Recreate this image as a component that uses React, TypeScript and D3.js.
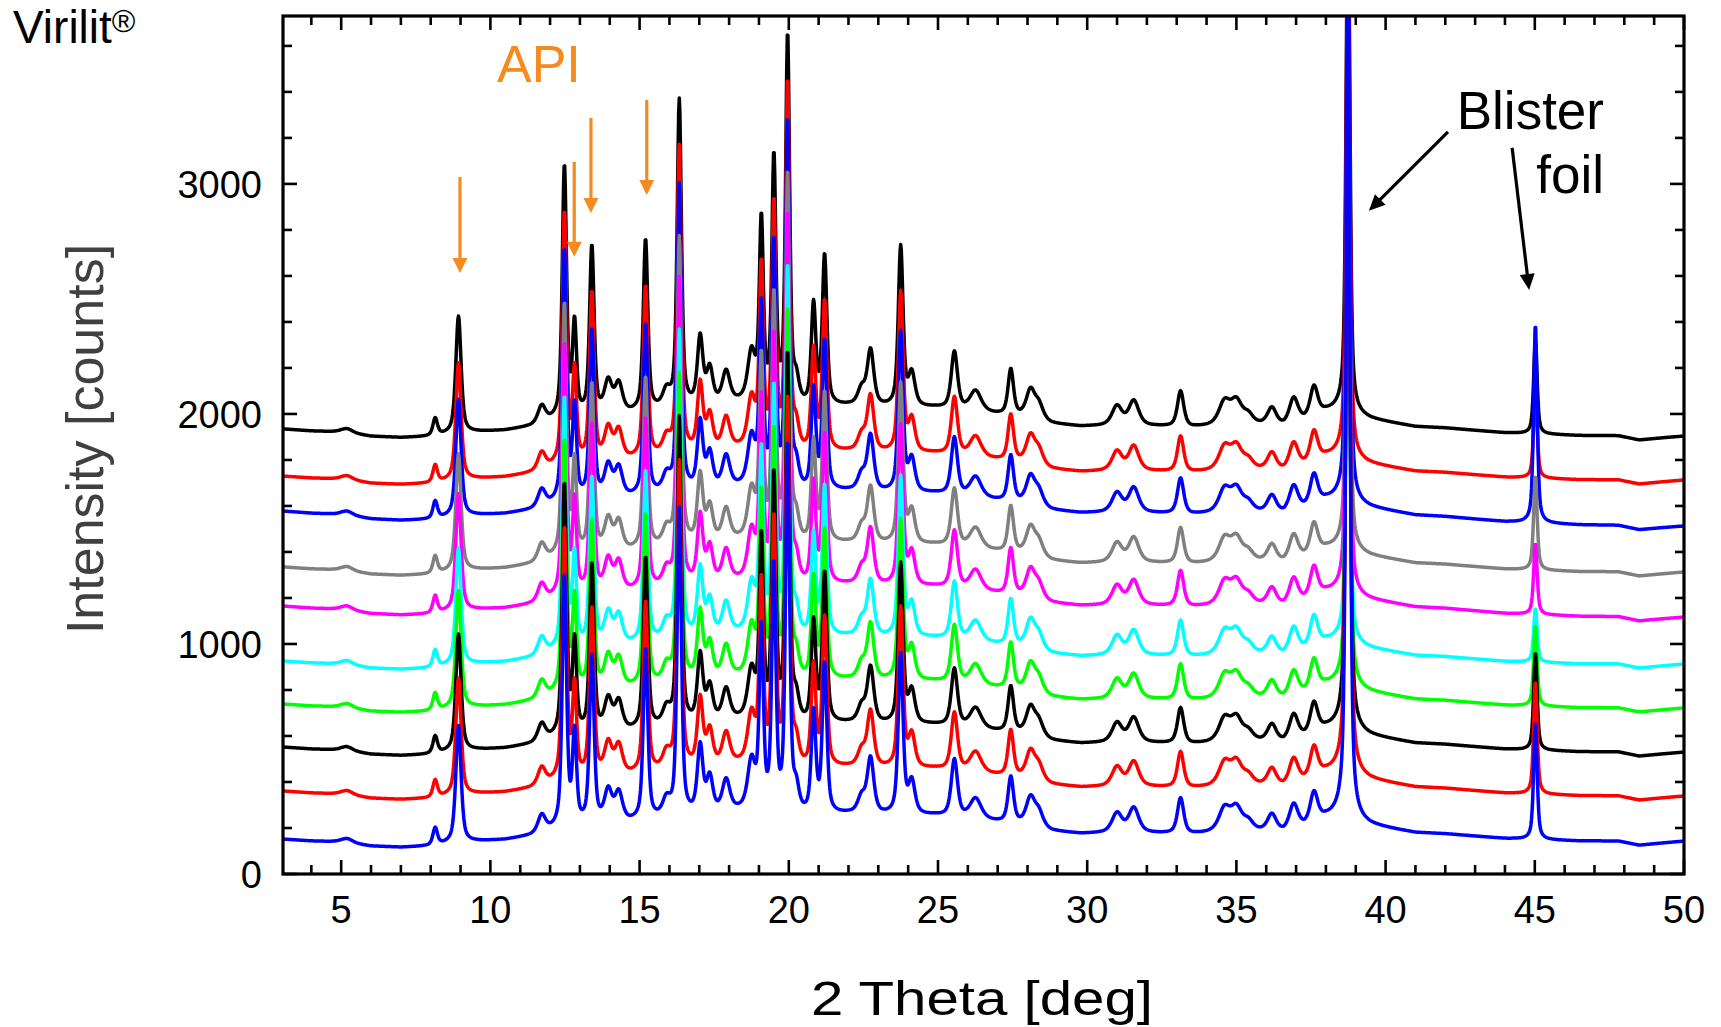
import React from 'react';
import * as d3 from 'd3';

// ---------- data ----------
const seriesNames = ['Scan 1', 'Scan 2', 'Scan 3', 'Scan 4', 'Scan 5', 'Scan 6', 'Scan 7', 'Scan 8', 'Scan 9', 'Scan 10'];
const seriesColors = ['#000000', '#ff0000', '#0000ff', '#808080', '#ff00ff', '#00ffff', '#00ff00', '#000000', '#ff0000', '#0000ff'];
// vertical offset of each pattern at 2θ = 3 and at 2θ = 50 (counts)
const offsetStart = [1935, 1730, 1578, 1335, 1165, 926, 739, 552, 361, 152];
const offsetEnd = [1904, 1713, 1513, 1313, 1117, 913, 722, 530, 339, 143];

// common background shape (counts relative to the offset)
const bgX = [3.05, 4, 5, 6, 7, 8, 8.5, 9.5, 10.5, 11.4, 12, 12.6, 13.7, 14.6, 15.6, 16.7, 18.3, 19.3, 20.5, 22, 23.3, 24.9, 26.8, 27.8, 28.8, 29.8, 30.5, 32, 32.8, 33.5, 34.2, 35.9, 36.6, 37.3, 38, 38.5, 39, 39.5, 40, 41, 42, 43, 44, 46.5, 47.8, 48.5, 49.3, 50];
const bgY = [0, -8, -12, -30, -35, -30, -22, -10, -2, 15, 35, 55, 65, 70, 85, 100, 120, 125, 100, 110, 105, 105, 80, 65, 38, 28, 30, 30, 28, 25, 30, 35, 30, 55, 95, 105, 80, 65, 55, 35, 30, 20, 10, 0, 0, -18, -8, 0];

// API reflections: position (deg), height (counts), FWHM (deg)
const peakPos = [5.2, 8.15, 8.93, 11.72, 12.48, 12.82, 13.4, 13.95, 14.3, 15.2, 15.9, 16.33, 17.03, 17.35, 17.9, 18.75, 19.08, 19.5, 19.96, 20.25, 20.83, 21.2, 22.44, 22.74, 23.75, 24.12, 25.55, 26.26, 27.44, 28.1, 28.38, 31.0, 31.56, 33.13, 34.6, 35.0, 35.4, 36.19, 36.92, 37.6];
const peakHeight = [18, 75, 510, 75, 1090, 390, 730, 135, 125, 745, 70, 1335, 290, 150, 135, 205, 775, 1050, 1595, 90, 435, 650, 70, 240, 695, 140, 250, 90, 200, 120, 65, 85, 108, 155, 100, 100, 40, 75, 110, 130];
const peakWidth = [0.45, 0.18, 0.21, 0.3, 0.17, 0.16, 0.18, 0.3, 0.3, 0.18, 0.3, 0.17, 0.22, 0.25, 0.3, 0.3, 0.16, 0.16, 0.16, 0.22, 0.18, 0.18, 0.3, 0.26, 0.19, 0.26, 0.25, 0.45, 0.22, 0.35, 0.35, 0.4, 0.4, 0.25, 0.45, 0.45, 0.4, 0.35, 0.35, 0.3];

// blister foil reflections, heights per pattern
const blisterPos = [38.74, 45.02];
const blisterWidth = [0.15, 0.14];
const blister1Height = [2300, 2300, 2400, 2000, 2100, 1855, 2300, 3000, 3300, 3650];
const blister2Height = [400, 390, 865, 410, 310, 235, 350, 425, 490, 510];

const xTicks = [5, 10, 15, 20, 25, 30, 35, 40, 45, 50];
const yTicks = [0, 1000, 2000, 3000];

// annotation arrows (data coordinates)
const apiArrowX = [8.98, 12.81, 13.37, 15.24];
const apiArrowTop = [3030, 3096, 3287, 3365];
const apiArrowTip = [2613, 2683, 2874, 2952];
const foilArrowFromX = [42.09, 44.24];
const foilArrowFromY = [3226, 3157];
const foilArrowToX = [39.44, 44.81];
const foilArrowToY = [2883, 2539];

// ---------- layout ----------
const W = 1721;
const H = 1027;
const L = 283, R = 1684, T = 16, B = 874;
const FONT = "'Liberation Sans', Arial, Helvetica, sans-serif";
const ORANGE = '#f58a1f';

const x = d3.scaleLinear().domain([3.05, 50]).range([L, R]);
const y = d3.scaleLinear().domain([0, 3730]).range([B, T]);
const bg = d3.scaleLinear().domain(bgX).range(bgY);

function pv(t: number, c: number, h: number, w: number) {
  const d = (2 * (t - c)) / w;
  const lor = 1 / (1 + d * d);
  const gau = Math.exp(-Math.LN2 * d * d);
  return h * (0.6 * lor + 0.4 * gau);
}

const grid = d3.range(3.05, 50.0001, 0.02);

function pattern(i: number): [number, number][] {
  return grid.map((t) => {
    const f = (t - 3.05) / (50 - 3.05);
    let v = offsetStart[i] + (offsetEnd[i] - offsetStart[i]) * f + bg(t);
    for (let k = 0; k < peakPos.length; k++) {
      if (Math.abs(t - peakPos[k]) < 4) v += pv(t, peakPos[k], peakHeight[k], peakWidth[k]);
    }
    v += pv(t, blisterPos[0], blister1Height[i], blisterWidth[0]);
    v += pv(t, blisterPos[1], blister2Height[i], blisterWidth[1]);
    return [t, v];
  });
}

const line = d3
  .line<[number, number]>()
  .x((d) => x(d[0]))
  .y((d) => y(d[1]));

function Arrow({ x1, y1, x2, y2, color, head, width, sw }: any) {
  const ang = Math.atan2(y2 - y1, x2 - x1);
  const bx = x2 - head * Math.cos(ang);
  const by = y2 - head * Math.sin(ang);
  const px = -Math.sin(ang) * (width / 2);
  const py = Math.cos(ang) * (width / 2);
  return (
    <g>
      <line x1={x1} y1={y1} x2={bx + Math.cos(ang) * 2} y2={by + Math.sin(ang) * 2} stroke={color} strokeWidth={sw} />
      <polygon points={`${x2},${y2} ${bx + px},${by + py} ${bx - px},${by - py}`} fill={color} />
    </g>
  );
}

export default function App() {
  const patterns = seriesNames.map((_, i) => pattern(i));
  const xMinor = d3.range(4, 50, 1).filter((v) => v % 5 !== 0);
  const yMinor = d3.range(200, 3730, 200).filter((v) => v % 1000 !== 0);
  const MAJ = 14;
  const MIN = 9;
  return (
    <svg width={W} height={H} style={{ position: 'absolute', left: 0, top: 0, background: '#fff' }} fontFamily={FONT}>
      <defs>
        <clipPath id="plotclip">
          <rect x={L} y={T} width={R - L} height={B - T} />
        </clipPath>
      </defs>
      <rect x={0} y={0} width={W} height={H} fill="#fff" />

      <g clipPath="url(#plotclip)">
        {patterns.map((p, i) => (
          <path key={i} d={line(p) || ''} fill="none" stroke={seriesColors[i]} strokeWidth={3.5} strokeLinejoin="round" />
        ))}
      </g>

      {/* ticks */}
      <g stroke="#000" strokeWidth={2.6}>
        {xTicks.map((v) => (
          <g key={'xt' + v}>
            <line x1={x(v)} x2={x(v)} y1={B} y2={B - MAJ} />
            <line x1={x(v)} x2={x(v)} y1={T} y2={T + MAJ} />
          </g>
        ))}
        {xMinor.map((v) => (
          <g key={'xm' + v}>
            <line x1={x(v)} x2={x(v)} y1={B} y2={B - MIN} />
            <line x1={x(v)} x2={x(v)} y1={T} y2={T + MIN} />
          </g>
        ))}
        {yTicks.map((v) => (
          <g key={'yt' + v}>
            <line x1={L} x2={L + MAJ} y1={y(v)} y2={y(v)} />
            <line x1={R} x2={R - MAJ} y1={y(v)} y2={y(v)} />
          </g>
        ))}
        {yMinor.map((v) => (
          <g key={'ym' + v}>
            <line x1={L} x2={L + MIN} y1={y(v)} y2={y(v)} />
            <line x1={R} x2={R - MIN} y1={y(v)} y2={y(v)} />
          </g>
        ))}
      </g>
      <rect x={L} y={T} width={R - L} height={B - T} fill="none" stroke="#000" strokeWidth={3.2} />

      {/* tick labels */}
      {xTicks.map((v) => (
        <text key={'xl' + v} x={x(v)} y={923} textAnchor="middle" fontSize={38} fill="#000">
          {v}
        </text>
      ))}
      {yTicks.map((v) => (
        <text key={'yl' + v} x={262} y={y(v) + 14} textAnchor="end" fontSize={38} fill="#000">
          {v}
        </text>
      ))}

      {/* axis titles */}
      <text x={811} y={1015} fontSize={49} textLength={342} lengthAdjust="spacingAndGlyphs" fill="#000">
        2 Theta [deg]
      </text>
      <text transform={`translate(103, 439) rotate(-90)`} textAnchor="middle" fontSize={52} fill="#404040">
        Intensity [counts]
      </text>

      {/* sample label */}
      <text x={13} y={43} fontSize={46} fill="#000">
        Virilit<tspan fontSize={32} dy={-11}>®</tspan>
      </text>

      {/* API annotation */}
      <text x={497} y={82} fontSize={52} fill={ORANGE}>
        API
      </text>
      {apiArrowX.map((v, i) => (
        <Arrow key={'aa' + i} x1={x(v)} y1={y(apiArrowTop[i])} x2={x(v)} y2={y(apiArrowTip[i])} color={ORANGE} head={15} width={15} sw={3.2} />
      ))}

      {/* Blister foil annotation */}
      <text x={1604} y={129} textAnchor="end" fontSize={53} fill="#000">
        Blister
      </text>
      <text x={1604} y={193} textAnchor="end" fontSize={53} fill="#000">
        foil
      </text>
      {foilArrowFromX.map((v, i) => (
        <Arrow key={'fa' + i} x1={x(v)} y1={y(foilArrowFromY[i])} x2={x(foilArrowToX[i])} y2={y(foilArrowToY[i])} color="#000" head={16} width={15} sw={3.2} />
      ))}
    </svg>
  );
}
